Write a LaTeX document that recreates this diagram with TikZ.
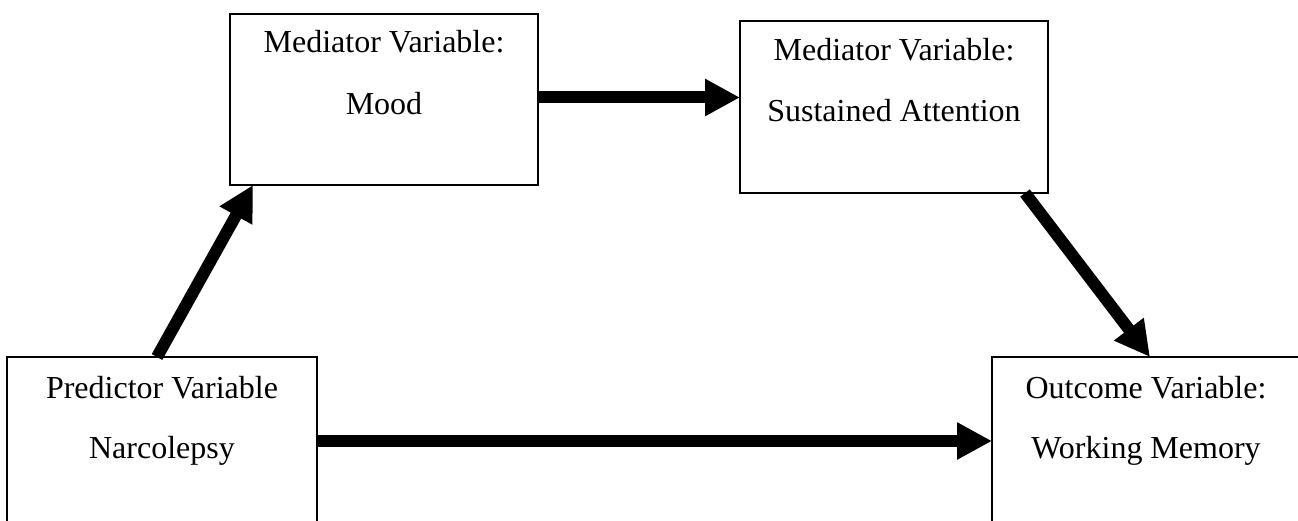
\documentclass[tikz,border=0pt]{standalone}
\usepackage{fontspec}
\setmainfont{Liberation Serif}
\usetikzlibrary{arrows.meta}

\tikzset{
  varbox/.style={draw=black, line width=1.6pt, fill=white, inner sep=0pt, outer sep=0pt},
  boxtext/.style={anchor=base, inner sep=0pt, outer sep=0pt, font=\fontsize{32}{38}\selectfont},
  bigarrow/.style={line width=12pt, -{Triangle[length=35pt,width=35pt]}}
}

\begin{document}
\begin{tikzpicture}[x=1pt, y=-1pt]
  \clip (0,0) rectangle (1298,521);
  \fill[white] (0,0) rectangle (1298,521);

  % variable boxes
  \node[varbox, minimum width=308pt, minimum height=171pt] (mood) at (384,99.5) {};
  \node[varbox, minimum width=308pt, minimum height=172pt] (sust) at (894,107) {};
  \node[varbox, minimum width=310pt, minimum height=171pt] (pred) at (162,442.5) {};
  \node[varbox, minimum width=308pt, minimum height=171pt] (out) at (1146,442.5) {};

  % box labels, two lines each
  \node[boxtext] (mood1) at ([yshift=-39pt]mood.north) {Mediator Variable:};
  \node[boxtext] (mood2) at ([yshift=-101pt]mood.north) {Mood};
  \node[boxtext] (sust1) at ([yshift=-40pt]sust.north) {Mediator Variable:};
  \node[boxtext] (sust2) at ([yshift=-101pt]sust.north) {Sustained Attention};
  \node[boxtext] (pred1) at ([yshift=-41pt]pred.north) {Predictor Variable};
  \node[boxtext] (pred2) at ([yshift=-101pt]pred.north) {Narcolepsy};
  \node[boxtext] (out1) at ([yshift=-41pt]out.north) {Outcome Variable:};
  \node[boxtext] (out2) at ([yshift=-101pt]out.north) {Working Memory};

  % paths between the variables
  \draw[bigarrow] ([xshift=150pt]pred.north west) -- ([xshift=23pt]mood.south west);
  \draw[bigarrow] ([yshift=2pt]mood.east) -- ([yshift=2pt]mood.east -| sust.west);
  \draw[bigarrow] ([xshift=-23pt]sust.south east) -- ([xshift=158pt]out.north west);
  \draw[bigarrow] ([yshift=1.5pt]pred.east) -- ([yshift=1.5pt]pred.east -| out.west);
\end{tikzpicture}
\end{document}
